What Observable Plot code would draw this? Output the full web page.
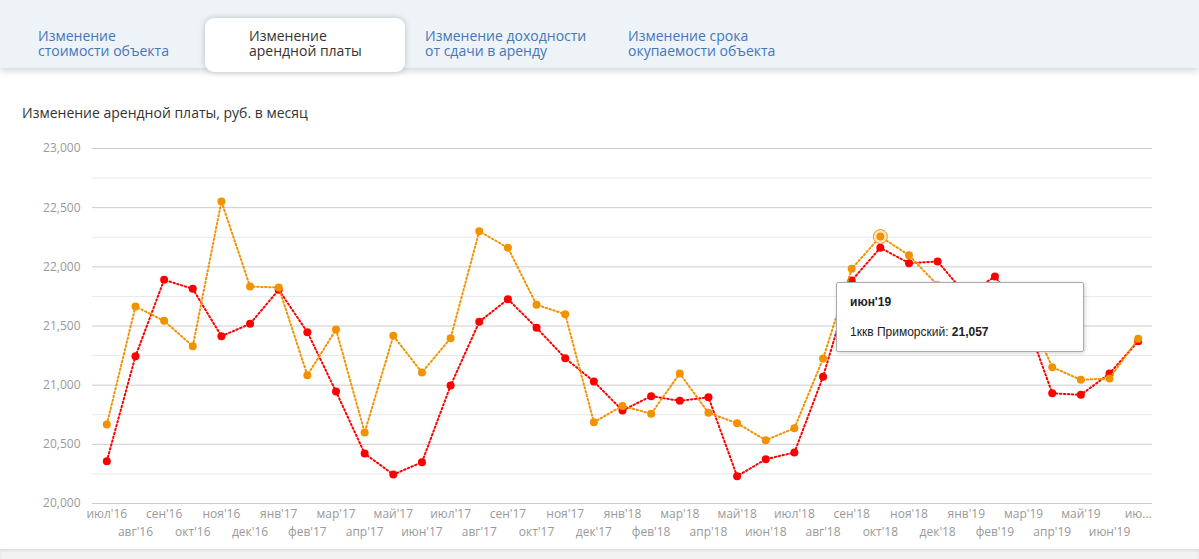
<!DOCTYPE html>
<html lang="ru">
<head>
<meta charset="utf-8">
<script src="https://cdn.jsdelivr.net/npm/d3@7"></script>
<script src="https://cdn.jsdelivr.net/npm/@observablehq/plot@0.6"></script>
<style>
  html, body { margin: 0; padding: 0; }
  body { width: 1199px; height: 559px; overflow: hidden; background: #fff; position: relative; font-family: "Open Sans", sans-serif; }
  .tabbar { position: absolute; left: 0; top: 0; width: 1199px; height: 68px; background: #eef3f8; box-shadow: 0 3px 7px rgba(0,0,0,0.16); z-index: 1; }
  .tab { position: absolute; font-size: 14px; line-height: 15px; color: #4476b9; z-index: 3; white-space: nowrap; }
  .tab span { display: block; height: 15px; }
  .tab.active { color: #333; }
  .activebg { position: absolute; left: 205px; top: 18px; width: 200px; height: 54px; background: #fff; border-radius: 9px; box-shadow: 0 0 6px rgba(0,0,0,0.22); z-index: 2; }
  .title { position: absolute; left: 22px; top: 103px; font-size: 14px; color: #333; }
  #chart { position: absolute; left: 0; top: 130px; }
  .bottom { position: absolute; left: 0; top: 549px; width: 1199px; height: 10px; background: #f2f2f2; box-shadow: inset 0 2px 3px rgba(0,0,0,0.08); }
  .tooltip { position: absolute; left: 836px; top: 282px; width: 246px; height: 68px; background: #fff; border: 1px solid #aaa; border-radius: 2px; box-shadow: 1px 1px 4px rgba(0,0,0,0.18); font-family: "Liberation Sans", Arial, sans-serif; font-size: 12px; color: #222; }
  .tooltip .h { position: absolute; left: 13px; top: 12px; font-weight: bold; }
  .tooltip .r { position: absolute; left: 13px; top: 42px; }
</style>
</head>
<body>
<div class="tabbar"></div>
<div class="activebg"></div>
<div class="tab" style="left:38px; top:28px;"><span>Изменение</span><span>стоимости объекта</span></div>
<div class="tab active" style="left:249px; top:28px;"><span>Изменение</span><span>арендной платы</span></div>
<div class="tab" style="left:425px; top:28px;"><span>Изменение доходности</span><span>от сдачи в аренду</span></div>
<div class="tab" style="left:628px; top:28px;"><span>Изменение срока</span><span>окупаемости объекта</span></div>
<div class="title">Изменение арендной платы, руб. в месяц</div>
<div id="chart"></div>
<div class="tooltip"><div class="h">июн'19</div><div class="r">1ккв Приморский: <b>21,057</b></div></div>
<div class="bottom"></div>
<script>
const months = ["июл'16","авг'16","сен'16","окт'16","ноя'16","дек'16",
  "янв'17","фев'17","мар'17","апр'17","май'17","июн'17","июл'17","авг'17","сен'17","окт'17","ноя'17","дек'17",
  "янв'18","фев'18","мар'18","апр'18","май'18","июн'18","июл'18","авг'18","сен'18","окт'18","ноя'18","дек'18",
  "янв'19","фев'19","мар'19","апр'19","май'19","июн'19","июл'19"];

const seriesRed = [20358,21245,21890,21814,21414,21518,
  21806,21448,20946,20422,20245,20349,20997,21535,21727,21485,21228,21031,
  20786,20907,20868,20898,20231,20374,20431,21071,21884,22161,22031,22045,
  21760,21918,21606,20932,20918,21099,21371];

const seriesPrimorsky = [20668,21665,21544,21329,22552,21834,
  21825,21084,21470,20600,21417,21107,21397,22301,22161,21679,21600,20687,
  20825,20758,21099,20766,20679,20535,20636,21225,21983,22256,22098,21845,
  21800,21750,21698,21152,21045,21057,21392];

const yTicksMajor = [20000,20500,21000,21500,22000,22500,23000];
const yTicksMinor = [20250,20750,21250,21750,22250,22750];
const highlightMonth = "окт'18";

const redData = months.map((m, i) => ({month: m, value: seriesRed[i]}));
const orangeData = months.map((m, i) => ({month: m, value: seriesPrimorsky[i]}));
const evenMonths = months.filter((m, i) => i % 2 === 0);
const oddMonths = months.filter((m, i) => i % 2 === 1);
const lastMonth = months[months.length - 1];
const fmtX = d => d === lastMonth ? "ию..." : d;

const RED = "#ff0000", ORANGE = "#f39200";
const DASH = "1.5,2.5";

const chart = Plot.plot({
  width: 1199,
  height: 420,
  marginTop: 18,
  marginBottom: 47,
  marginLeft: 92,
  marginRight: 47,
  style: {fontFamily: "Open Sans, sans-serif", fontSize: "12px", background: "transparent"},
  x: {type: "point", domain: months, padding: 0.5, round: false, axis: null},
  y: {domain: [20000, 23000], axis: null},
  marks: [
    Plot.ruleY(yTicksMinor, {stroke: "#e8e8e8", strokeWidth: 1}),
    Plot.ruleY(yTicksMajor, {stroke: "#cccccc", strokeWidth: 1}),
    Plot.axisY({ticks: yTicksMajor, tickSize: 0, tickPadding: 12, tickFormat: d3.format(","), fill: "#999", label: null}),
    Plot.axisX({ticks: evenMonths, tickSize: 0, tickPadding: 6, tickFormat: fmtX, fill: "#999", label: null}),
    Plot.axisX({ticks: oddMonths, tickSize: 0, tickPadding: 24, tickFormat: fmtX, fill: "#999", label: null}),
    Plot.line(redData, {x: "month", y: "value", stroke: RED, strokeWidth: 2, strokeDasharray: DASH}),
    Plot.dot(redData, {x: "month", y: "value", fill: RED, r: 4}),
    Plot.line(orangeData, {x: "month", y: "value", stroke: ORANGE, strokeWidth: 2, strokeDasharray: DASH}),
    Plot.dot(orangeData.filter(d => d.month === highlightMonth), {x: "month", y: "value", r: 7, fill: "#fde9c9", stroke: ORANGE, strokeWidth: 1}),
    Plot.dot(orangeData, {x: "month", y: "value", fill: ORANGE, r: 4})
  ]
});
document.getElementById("chart").appendChild(chart);
</script>
</body>
</html>
